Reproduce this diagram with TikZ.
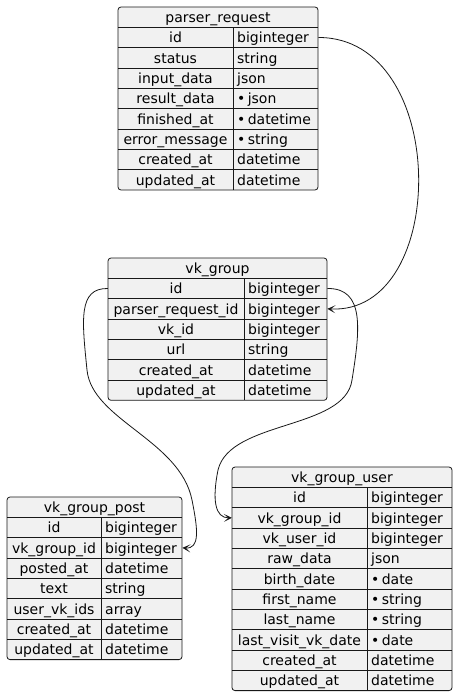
\documentclass[tikz,border=0pt]{standalone}
\usepackage{fontspec}
\setmainfont{DejaVu Sans}
\usetikzlibrary{arrows.meta}
\definecolor{rowfill}{HTML}{F1F1F1}
\definecolor{ink}{HTML}{181818}
\begin{document}
\begin{tikzpicture}[x=1pt, y=-1pt, >={Stealth[length=8pt, width=8pt, inset=4.5pt]},
  font=\fontsize{14}{16}\selectfont,
  tbl/.style={draw=ink, fill=rowfill, line width=0.8pt, rounded corners=3pt},
  sep/.style={draw=ink, line width=0.8pt},
  head/.style={inner sep=0pt, text height=12pt, text depth=1.5pt},
  fld/.style={inner sep=0pt, minimum height=20.33pt, text height=12pt, text depth=1.5pt},
  typ/.style={inner xsep=4pt, inner ysep=0pt, minimum height=20.33pt,
    text height=12pt, text depth=1.5pt, align=left, anchor=west},
  link/.style={draw=ink, line width=0.8pt, ->}]
\useasboundingbox (0,0) rectangle (458,696);

% parser_request
\path[tbl] (118,7) rectangle (318,190);
\node[head] (prq) at (218,17.17) {parser\_request};
\foreach \f/\t [count=\i] in {id/biginteger, status/string, input\_data/json,
    result\_data/\textbullet\,json, finished\_at/\textbullet\,datetime,
    error\_message/\textbullet\,string, created\_at/datetime, updated\_at/datetime}
{
  \node[fld, minimum width=115pt] (prq-f\i) at (175.5,{17.17+\i*20.33}) {\f};
  \node[typ, text width=77pt] (prq-t\i) at (233,{17.17+\i*20.33}) {\t};
  \draw[sep] (118,{7+\i*20.33}) -- (318,{7+\i*20.33});
}
\draw[sep] (233,27.33) -- (233,190);

% vk_group
\path[tbl] (108,258) rectangle (327,400.3);
\node[head] (grp) at (217.5,268.17) {vk\_group};
\foreach \f/\t [count=\i] in {id/biginteger, parser\_request\_id/biginteger,
    vk\_id/biginteger, url/string, created\_at/datetime, updated\_at/datetime}
{
  \node[fld, minimum width=136pt] (grp-f\i) at (176,{268.17+\i*20.33}) {\f};
  \node[typ, text width=75pt] (grp-t\i) at (244,{268.17+\i*20.33}) {\t};
  \draw[sep] (108,{258+\i*20.33}) -- (327,{258+\i*20.33});
}
\draw[sep] (244,278.33) -- (244,400.3);

% vk_group_post
\path[tbl] (7,497) rectangle (182,659.6);
\node[head] (post) at (94.5,507.17) {vk\_group\_post};
\foreach \f/\t [count=\i] in {id/biginteger, vk\_group\_id/biginteger,
    posted\_at/datetime, text/string, user\_vk\_ids/array,
    created\_at/datetime, updated\_at/datetime}
{
  \node[fld, minimum width=94pt] (post-f\i) at (54,{507.17+\i*20.33}) {\f};
  \node[typ, text width=73pt] (post-t\i) at (101,{507.17+\i*20.33}) {\t};
  \draw[sep] (7,{497+\i*20.33}) -- (182,{497+\i*20.33});
}
\draw[sep] (101,517.33) -- (101,659.6);

% vk_group_user
\path[tbl] (232,467) rectangle (452,690.6);
\node[head] (usr) at (342,477.17) {vk\_group\_user};
\foreach \f/\t [count=\i] in {id/biginteger, vk\_group\_id/biginteger,
    vk\_user\_id/biginteger, raw\_data/json, birth\_date/\textbullet\,date,
    first\_name/\textbullet\,string, last\_name/\textbullet\,string,
    last\_visit\_vk\_date/\textbullet\,date, created\_at/datetime, updated\_at/datetime}
{
  \node[fld, minimum width=135pt] (usr-f\i) at (299.5,{477.17+\i*20.33}) {\f};
  \node[typ, text width=77pt] (usr-t\i) at (367,{477.17+\i*20.33}) {\t};
  \draw[sep] (232,{467+\i*20.33}) -- (452,{467+\i*20.33});
}
\draw[sep] (367,487.33) -- (367,690.6);

% relations
\draw[link] (prq-t1.east) .. controls (450,37) and (450,315) .. (grp-t2.east);
\draw[link] (grp-f1.west) .. controls (78,288) and (82,320) .. (87,370)
  .. controls (92,420) and (180,440) .. (192,500)
  .. controls (198,530) and (200,549) .. (post-t2.east);
\draw[link] (grp-t1.east) .. controls (365,288) and (360,330) .. (352,380)
  .. controls (345,430) and (230,420) .. (218,470)
  .. controls (212,500) and (215,518) .. (usr-f2.west);
\end{tikzpicture}
\end{document}
